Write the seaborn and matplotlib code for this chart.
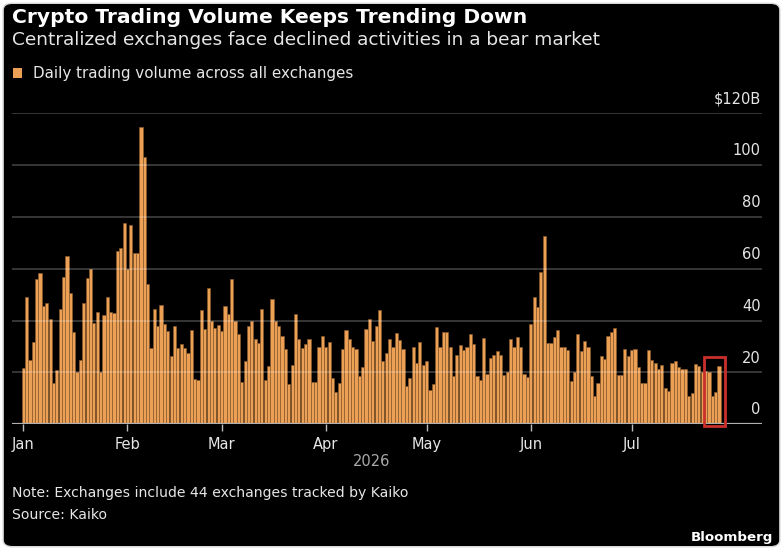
import pandas as pd
import numpy as np
import matplotlib
matplotlib.use("Agg")
import matplotlib.pyplot as plt
from matplotlib.patches import FancyBboxPatch, Rectangle
import seaborn as sns

# daily volume, $B, starting 2026-01-01
volume = [
    21.7, 49, 25, 31.6, 56, 58.5, 45.8, 47, 40.6, 15.9,
    20.8, 44.6, 57, 65, 50.5, 35.5, 20, 25, 47, 56.5,
    60, 39, 43.4, 20, 42.3, 49, 43.4, 43, 66.8, 68,
    77.8, 60, 77, 66, 66, 114.6, 103, 54, 29.4, 44.5,
    38, 46, 38.7, 36, 26.5, 38, 29.4, 31, 29.4, 27.5,
    36.5, 17.4, 17.2, 44.3, 36.8, 52.6, 40, 37.2, 38.5, 35.9,
    45.5, 42.7, 55.9, 40, 35, 16.5, 24.3, 37.8, 39.7, 33,
    31.4, 44.6, 17, 22.6, 48.4, 40, 38, 34, 29, 15.6,
    23, 42.6, 33, 29.4, 31, 33, 16.3, 16.5, 29.7, 34.2,
    30, 31.6, 18, 12.3, 16.1, 29.2, 36.5, 32.9, 30, 29,
    18.8, 22.3, 36.9, 40.6, 32, 37.8, 44.3, 24.3, 27.5, 33,
    29.7, 35.2, 32.6, 29, 14.8, 17.8, 30, 23.6, 31.7, 22.7,
    24.6, 13.3, 15.6, 37.5, 30, 35.6, 35.6, 30, 18.5, 26.8,
    30.5, 28.8, 30, 35, 31, 18.5, 17.2, 33.2, 19.4, 25.5,
    26.8, 28.4, 26.6, 18.9, 20, 32.8, 29.7, 33.8, 29.7, 19.4,
    18.1, 38.8, 49, 45.4, 58.7, 72.6, 31.4, 31.4, 33.7, 36.3,
    29.8, 30, 28.5, 16.8, 20.1, 35, 28.4, 32.3, 29.7, 18.5,
    11, 15.9, 26.5, 25.3, 34.2, 35.5, 37.2, 19.1, 19.1, 29,
    26.5, 28.7, 29, 22.3, 16.1, 15.8, 28.7, 24.8, 23.6, 21.2,
    22.9, 13.9, 12.9, 23.6, 24.6, 22.3, 21.2, 21.2, 11.1, 12,
    23.2, 22.5, 20.1, 20.5, 20.3, 10.9, 12.6, 22.5,
]
start_date = "2026-01-01"
month_labels = ["Jan", "Feb", "Mar", "Apr", "May", "Jun", "Jul"]
y_ticks = [0, 20, 40, 60, 80, 100, 120]
y_labels = ["0", "20", "40", "60", "80", "100", "$120B"]
highlight_days = ["2026-07-23", "2026-07-29"]

dates = pd.date_range(start_date, periods=len(volume), freq="D")
df = pd.DataFrame({"day": (dates - dates[0]).days, "volume": volume})

bar_color = "#eba056"
bg = "black"
txt = "#e6e6e6"

fig = plt.figure(figsize=(7.83, 5.5), dpi=100)
fig.patch.set_facecolor("white")
fig.patches.append(FancyBboxPatch((0.004, 0.006), 0.992, 0.988, boxstyle="round,pad=0,rounding_size=0.012",
                                  transform=fig.transFigure, facecolor=bg, edgecolor="#d8d8d8", lw=1,
                                  zorder=-5))

ax = fig.add_axes([0.0153, 0.2285, 0.9579, 0.5655])
ax.set_facecolor(bg)
sns.barplot(data=df, x="day", y="volume", native_scale=True, width=0.95,
            color=bar_color, saturation=1, edgecolor="#8a5a2c", linewidth=0.45, ax=ax)

ax.set_xlim(-3.36, 219.8)
ax.set_ylim(0, 120)
for s in ax.spines.values():
    s.set_visible(False)

# gridlines (drawn over the bars, translucent)
for v in y_ticks[1:]:
    ax.axhline(v, color="white", alpha=0.25, lw=1.2, zorder=5)
ax.axhline(0, color="#b0b0b0", lw=1.6, zorder=6)

ax.set_yticks([])
for v, lab in zip(y_ticks, y_labels):
    ax.annotate(lab, xy=(1.0, v), xycoords=ax.get_yaxis_transform(), xytext=(-1, 5),
                textcoords="offset points", ha="right", va="bottom", color=txt, fontsize=10.5)

month_starts = pd.date_range(start_date, periods=len(month_labels), freq="MS")
ax.set_xticks((month_starts - dates[0]).days)
ax.set_xticklabels(month_labels)
ax.tick_params(axis="x", colors="#bbbbbb", length=5, width=1, pad=4, labelsize=10.5)
for t in ax.get_xticklabels():
    t.set_color(txt)
ax.set_xlabel("")
ax.set_ylabel("")

# red box around the latest days
h0 = (pd.Timestamp(highlight_days[0]) - dates[0]).days - 0.4
h1 = (pd.Timestamp(highlight_days[1]) - dates[0]).days - 0.2
ax.add_patch(Rectangle((h0, -0.5), h1 - h0, 26.4, fill=False, edgecolor="#c9302c",
                       lw=2, zorder=7, clip_on=False))

fig.text(0.0153, 0.969, "Crypto Trading Volume Keeps Trending Down", color="white",
         fontsize=14.6, fontweight="bold", va="center")
fig.text(0.0153, 0.927, "Centralized exchanges face declined activities in a bear market",
         color=txt, fontsize=13.3, va="center")
fig.patches.append(Rectangle((0.016, 0.859), 0.0115, 0.017, transform=fig.transFigure,
                             facecolor=bar_color, edgecolor="none"))
fig.text(0.042, 0.867, "Daily trading volume across all exchanges", color=txt, fontsize=10.9, va="center")
fig.text(0.475, 0.16, "2026", color="#aaaaaa", fontsize=10.5, ha="center", va="center")
fig.text(0.0153, 0.1036, "Note: Exchanges include 44 exchanges tracked by Kaiko", color=txt,
         fontsize=10.1, va="center")
fig.text(0.0153, 0.0636, "Source: Kaiko", color=txt, fontsize=10.1, va="center")
fig.text(0.987, 0.0236, "Bloomberg", color="white", fontsize=9.6, fontweight="bold",
         ha="right", va="center")

fig.savefig("out.png", dpi=100, facecolor=fig.get_facecolor())
